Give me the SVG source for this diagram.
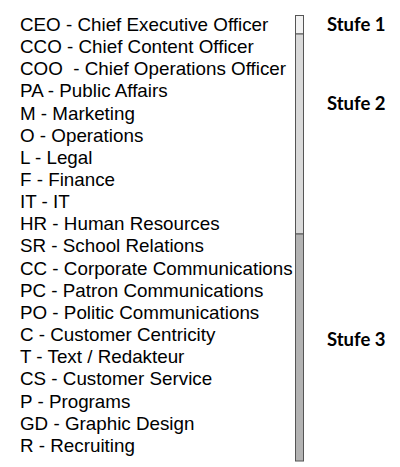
<svg xmlns="http://www.w3.org/2000/svg" width="400" height="467" viewBox="0 0 400 467">
<style>
.t{font-family:"Liberation Sans",Arial,sans-serif;font-size:17.5px;fill:#000}
.s{font-family:Lato,"Open Sans",sans-serif;font-weight:bold;font-size:18.5px;fill:#000}
.seg{stroke:#555;stroke-width:1}
</style>
<rect width="400" height="467" fill="#fff"/>
<g id="list" transform="scale(1.075,1)">
<text class="t" x="18.6" y="31">CEO - Chief Executive Officer</text>
<text class="t" x="18.6" y="53.15">CCO - Chief Content Officer</text>
<text class="t" x="18.6" y="75.3" xml:space="preserve">COO  - Chief Operations Officer</text>
<text class="t" x="18.6" y="97.45">PA - Public Affairs</text>
<text class="t" x="18.6" y="119.6">M - Marketing</text>
<text class="t" x="18.6" y="141.75">O - Operations</text>
<text class="t" x="18.6" y="163.9">L - Legal</text>
<text class="t" x="18.6" y="186.05">F - Finance</text>
<text class="t" x="18.6" y="208.2">IT - IT</text>
<text class="t" x="18.6" y="230.35">HR - Human Resources</text>
<text class="t" x="18.6" y="252.5">SR - School Relations</text>
<text class="t" x="18.6" y="274.65">CC - Corporate Communications</text>
<text class="t" x="18.6" y="296.8">PC - Patron Communications</text>
<text class="t" x="18.6" y="318.95">PO - Politic Communications</text>
<text class="t" x="18.6" y="341.1">C - Customer Centricity</text>
<text class="t" x="18.6" y="363.25">T - Text / Redakteur</text>
<text class="t" x="18.6" y="385.4">CS - Customer Service</text>
<text class="t" x="18.6" y="407.55">P - Programs</text>
<text class="t" x="18.6" y="429.7">GD - Graphic Design</text>
<text class="t" x="18.6" y="451.85">R - Recruiting</text>
</g>
<g id="bar">
<rect id="stufe1-seg" class="seg" x="295.5" y="15.5" width="8" height="18.5" fill="#f2f2f2"/>
<rect id="stufe2-seg" class="seg" x="295.5" y="34" width="8" height="200" fill="#d9d9d9"/>
<rect id="stufe3-seg" class="seg" x="295.5" y="234" width="8" height="227" fill="#b3b3b3"/>
</g>
<g id="labels">
<text id="stufe1" class="s" x="327" y="31">Stufe 1</text>
<text id="stufe2" class="s" x="327" y="110">Stufe 2</text>
<text id="stufe3" class="s" x="327" y="346">Stufe 3</text>
</g>
<g id="connectors"/>
</svg>
